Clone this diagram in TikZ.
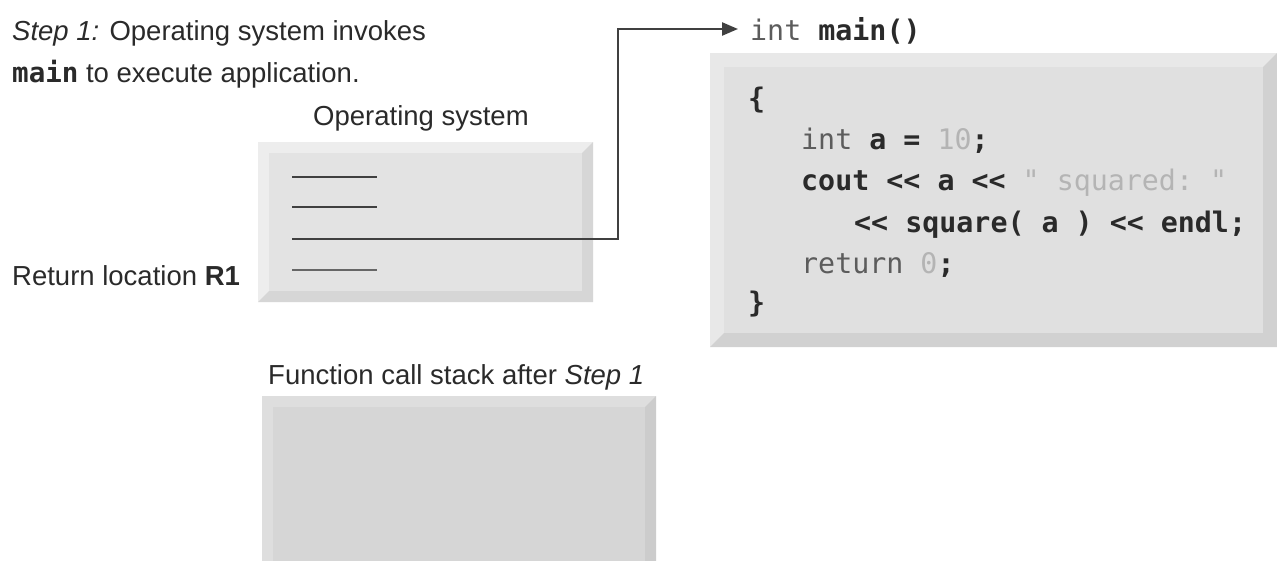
\documentclass[tikz,border=0pt]{standalone}
\usepackage{fontspec}
\setmainfont{Liberation Sans}
\setmonofont{DejaVu Sans Mono}
\usetikzlibrary{arrows.meta}
\definecolor{txt}{HTML}{2A2A2A}
\definecolor{kw}{HTML}{5C5C5C}
\definecolor{lit}{HTML}{B4B4B4}
\definecolor{wire}{HTML}{404040}
\newcommand\bevbox[8]{%
  \fill[#6] (#1,#2) rectangle (#3,#4);
  \fill[#8] (#3,#2) -- (#3,#4) -- (#1,#4) -- ({#1+#5},{#4-#5}) -- ({#3-#5},{#4-#5}) -- ({#3-#5},{#2+#5}) -- cycle;
  \fill[#7] ({#1+#5},{#2+#5}) rectangle ({#3-#5},{#4-#5});
}
\newcommand\kwd[1]{\textcolor{kw}{\mdseries #1}}
\newcommand\ltr[1]{\textcolor{lit}{\mdseries #1}}
\begin{document}
\begin{tikzpicture}[x=1pt,y=-1pt,
  lbl/.style={inner sep=0pt,anchor=base west,text=txt,font=\fontsize{27.5}{31}\selectfont},
  code/.style={inner sep=0pt,anchor=base west,text=txt,font=\fontsize{28.3}{32}\selectfont\ttfamily\bfseries},
  slot/.style={line width=2.4pt,draw=wire},
  wirestyle/.style={line width=2.4pt,draw=wire,-{Triangle[length=16pt,width=13pt]}}]
\useasboundingbox (0,0) rectangle (1277,560);
\fill[white] (0,0) rectangle (1277,560);

% boxes
\bevbox{258}{142}{593}{302}{11}{black!7}{black!11}{black!16}
\bevbox{710}{53}{1277}{347}{14}{black!9}{black!12}{black!18}
\bevbox{262}{396}{656}{575}{11}{black!13}{black!16}{black!20}

% labels
\node[lbl] (step) at (12,40) {\textit{Step 1:} Operating system invokes};
\node[lbl] (step2) at (12,82) {\texttt{\textbf{main}} to execute application.};
\node[lbl] (osl) at (313,125) {Operating system};
\node[lbl] (retl) at (12,285) {Return location \textbf{R1}};
\node[lbl] (fcs) at (268,384) {Function call stack after \textit{Step 1}};

% slots in the OS frame
\draw[slot] (292,177) coordinate (s1) -- (377,177);
\draw[slot] (292,207) coordinate (s2) -- (377,207);
\coordinate (ret) at (292,239);
\draw[slot,draw=black!60] (292,270) coordinate (s4) -- (377,270);

% code
\node[code] (mainsig) at (750,40) {\kwd{int} main()};
\node[code] (c1) at (748,108) {\{};
\node[code] (c2) at (801,149) {\kwd{int} a = \ltr{10};};
\node[code] (c3) at (801,190) {cout << a << \ltr{" squared: "}};
\node[code] (c4) at (854,232) {<< square( a ) << endl;};
\node[code] (c5) at (801,273) {\kwd{return} \ltr{0};};
\node[code] (c6) at (748,312) {\}};

% connector
\coordinate (turn) at (618,29);
\draw[wirestyle] (ret) -| (turn) -- ([xshift=-12pt]mainsig.west |- turn);
\end{tikzpicture}
\end{document}
